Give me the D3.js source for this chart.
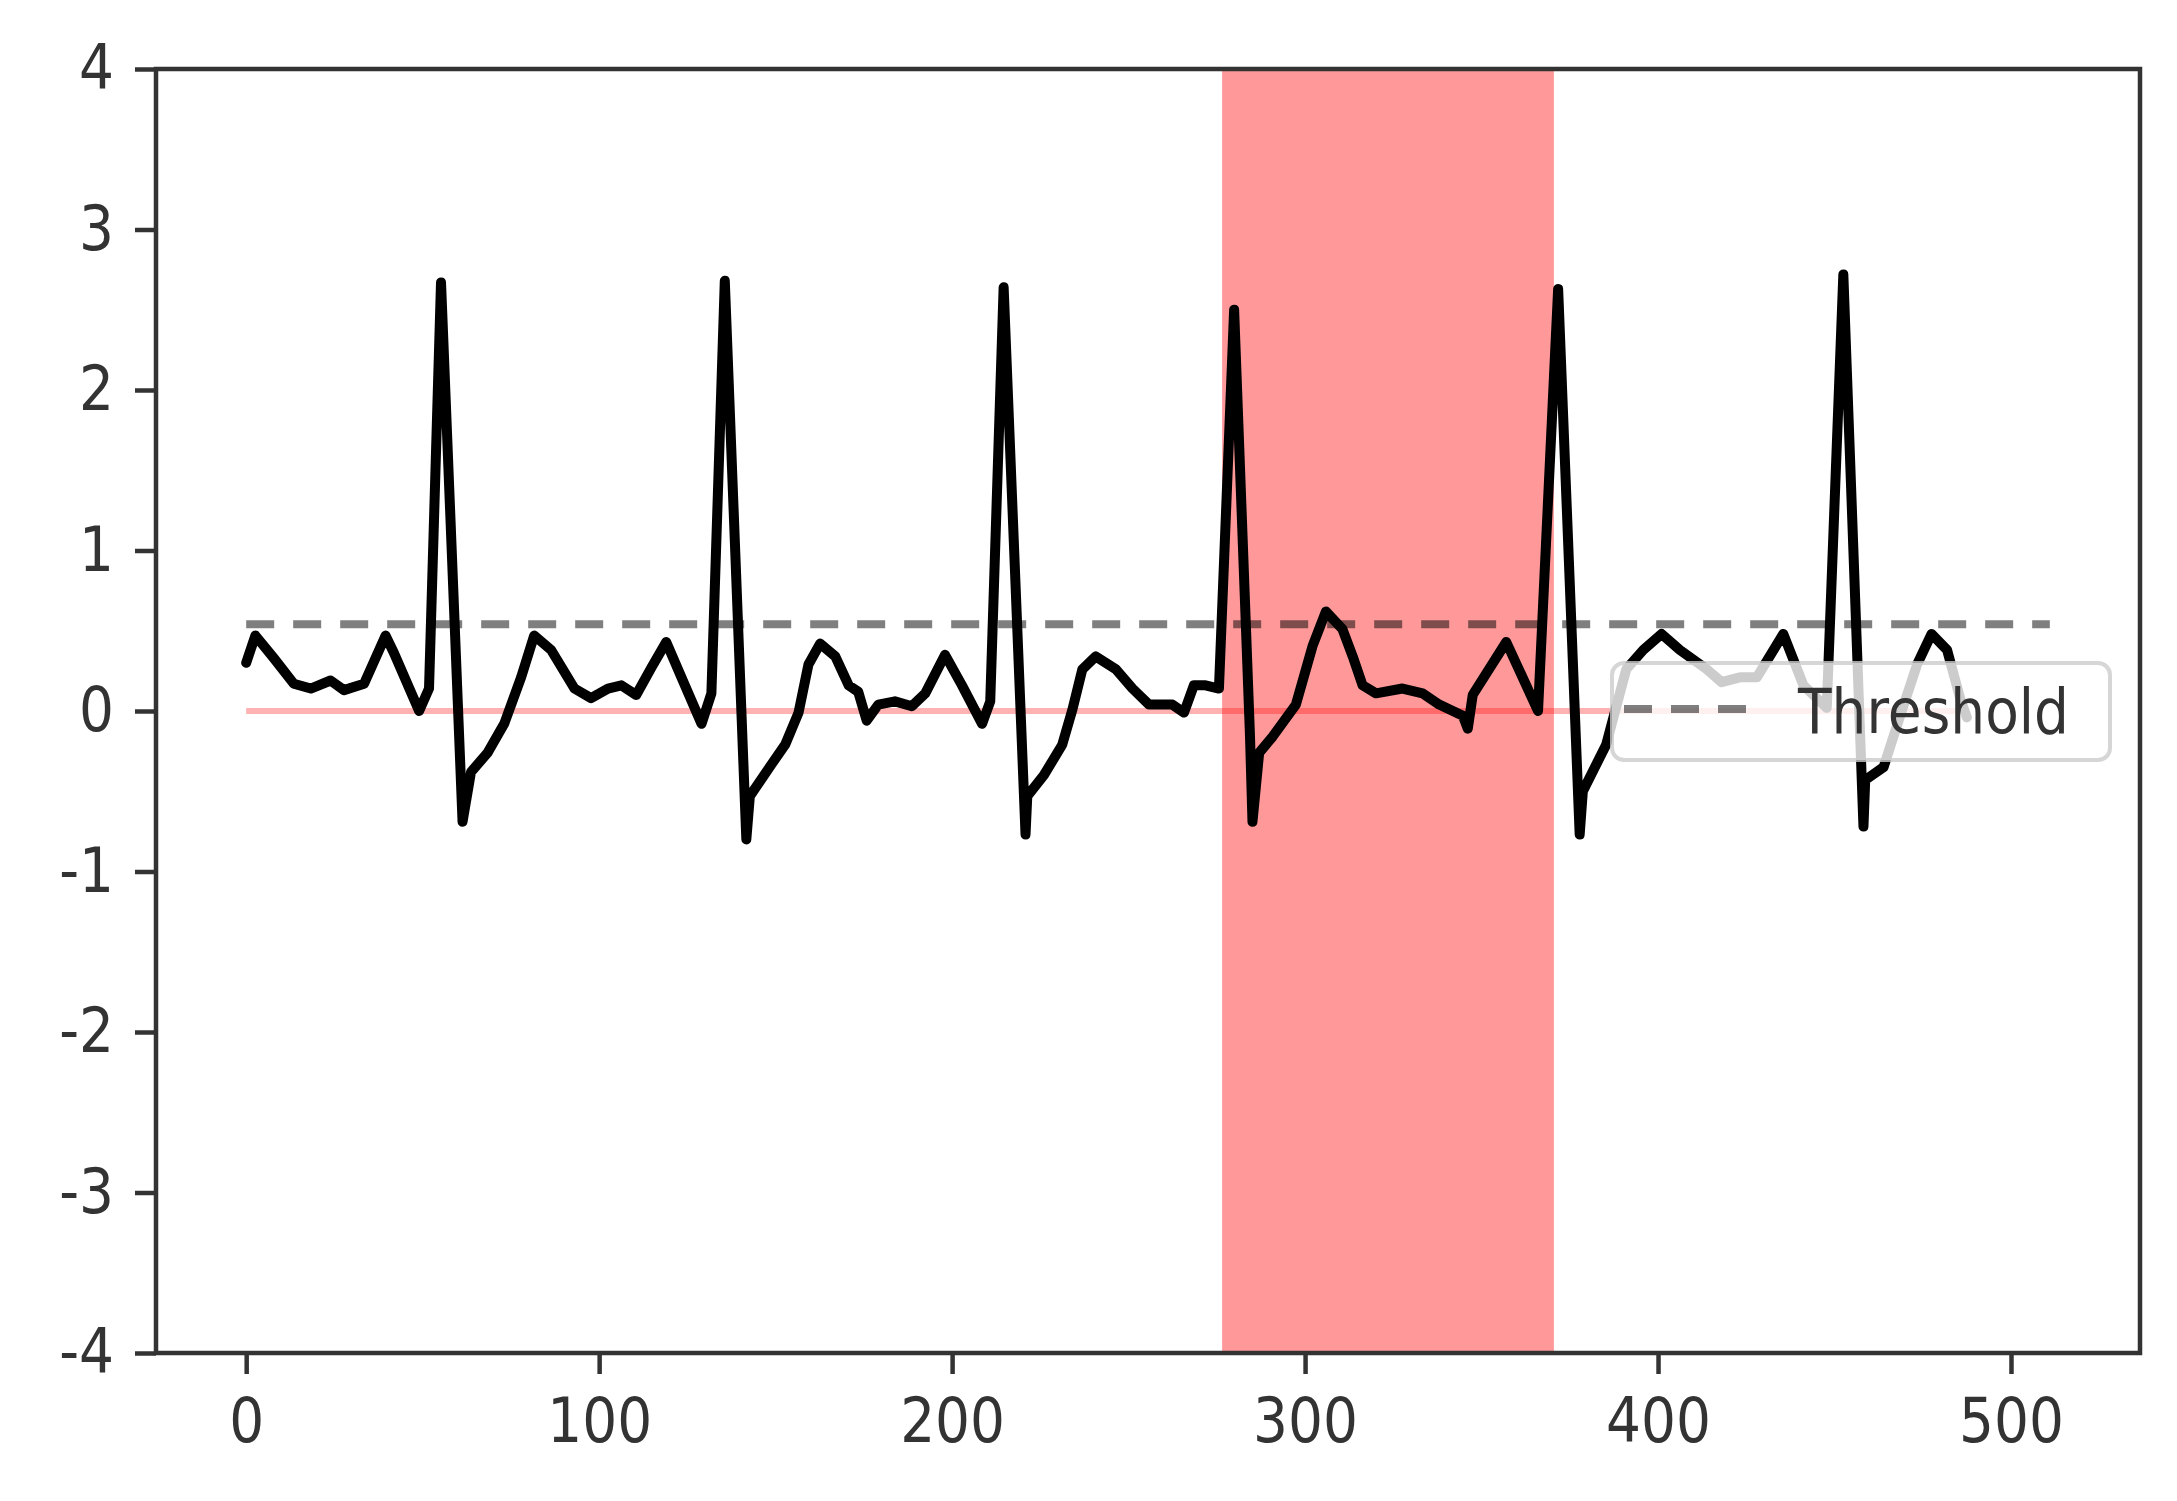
<!DOCTYPE html>
<html>
<head>
<meta charset="utf-8">
<script src="https://cdn.jsdelivr.net/npm/d3@7"></script>
<style>
  body { margin: 0; background: #fff; }
  .tick text, .legend text {
    font-family: "DejaVu Sans", sans-serif;
    font-size: 55px;
    fill: #333;
    transform-box: fill-box;
    transform-origin: center;
    transform: scale(1, 1.12);
  }
</style>
</head>
<body>
<div class="container"></div>
<script>
// ECG trace (sample index, amplitude)
var ecgX = [0, 2.6, 7.8, 13.5, 18.3, 23.9, 27.7, 33.4, 39.5, 41.9, 49.0, 51.8,
  55.2, 61.3, 63.7, 68.4, 73.1, 77.9, 81.6, 86.4, 93.0, 97.7, 102.5, 106.3,
  110.5, 114.8, 119.0, 123.3, 129.0, 131.8, 135.6, 141.7, 142.7, 148.9, 152.7,
  156.5, 159.3, 162.6, 166.9, 170.7, 173.4, 175.8, 179.1, 183.8, 188.6, 192.4,
  198.0, 202.8, 208.5, 210.8, 214.6, 220.8, 221.3, 226.0, 231.2, 234.1, 236.9,
  240.7, 246.4, 251.1, 255.8, 262.4, 265.7, 268.5, 271.8, 275.6, 279.9, 284.4,
  285.1, 287.0, 290.8, 297.4, 302.2, 305.9, 310.6, 313.5, 316.3, 320.1, 327.6,
  333.3, 338.0, 344.7, 346.1, 347.5, 357.0, 366.0, 371.7, 377.8, 378.7, 385.3,
  391.0, 395.8, 401.0, 406.2, 413.8, 418.0, 423.2, 428.0, 435.5, 441.2, 447.8,
  452.5, 458.2, 458.7, 463.9, 468.6, 473.4, 477.5, 481.9, 485.7, 487.5];
var ecgY = [0.30, 0.47, 0.33, 0.17, 0.14, 0.19, 0.13, 0.17, 0.47, 0.36, 0.00, 0.14,
  2.67, -0.69, -0.38, -0.26, -0.08, 0.21, 0.47, 0.38, 0.14, 0.08, 0.14, 0.16,
  0.10, 0.27, 0.43, 0.21, -0.08, 0.11, 2.68, -0.80, -0.53, -0.33, -0.21,
  -0.01, 0.29, 0.42, 0.34, 0.16, 0.12, -0.06, 0.04, 0.06, 0.03, 0.11,
  0.35, 0.16, -0.08, 0.06, 2.64, -0.77, -0.53, -0.40, -0.21, 0.01, 0.26,
  0.34, 0.26, 0.14, 0.04, 0.04, -0.01, 0.16, 0.16, 0.14, 2.50, -0.16,
  -0.69, -0.26, -0.16, 0.04, 0.41, 0.62, 0.51, 0.34, 0.16, 0.11, 0.14,
  0.11, 0.04, -0.03, -0.11, 0.10, 0.43, 0.00, 2.63, -0.77, -0.50, -0.21,
  0.26, 0.38, 0.48, 0.38, 0.26, 0.18, 0.21, 0.21, 0.48, 0.16, 0.02,
  2.72, -0.72, -0.43, -0.35, -0.03, 0.29, 0.48, 0.38, 0.07, -0.04];

var zeroX = [0, 487.5];
var zeroY = [0, 0];
var thresholdX = [0, 511];
var thresholdValue = 0.54;
var anomalySpan = [276.5, 370.5];
var xTicks = [0, 100, 200, 300, 400, 500];
var yTicks = [-4, -3, -2, -1, 0, 1, 2, 3, 4];
var legendLabel = "Threshold";

var W = 2177, H = 1501;
var m = {left: 156, right: 37, top: 69, bottom: 148};
var iw = W - m.left - m.right, ih = H - m.top - m.bottom;

var svg = d3.select(".container").append("svg").attr("width", W).attr("height", H);
var g = svg.append("g").attr("transform", "translate(" + m.left + "," + m.top + ")");

var pad = (thresholdX[1] - thresholdX[0]) * 0.05;
var x = d3.scaleLinear().domain([thresholdX[0] - pad, thresholdX[1] + pad]).range([0, iw]);
var y = d3.scaleLinear().domain([-4, 4]).range([ih, 0]);

// anomaly window
g.append("rect")
  .attr("x", x(anomalySpan[0])).attr("y", 0)
  .attr("width", x(anomalySpan[1]) - x(anomalySpan[0])).attr("height", ih)
  .attr("fill", "#ff0000").attr("fill-opacity", 0.4);

var line = d3.line().x(function(d){ return x(d[0]); }).y(function(d){ return y(d[1]); });

g.append("path")
  .datum(d3.zip(zeroX, zeroY))
  .attr("d", line).attr("fill", "none")
  .attr("stroke", "#ff0000").attr("stroke-opacity", 0.3).attr("stroke-width", 6);

g.append("path")
  .datum(d3.zip(ecgX, ecgY))
  .attr("d", line).attr("fill", "none")
  .attr("stroke", "#000").attr("stroke-width", 10)
  .attr("stroke-linejoin", "round").attr("stroke-linecap", "round");

g.append("path")
  .datum(thresholdX.map(function(v){ return [v, thresholdValue]; }))
  .attr("d", line).attr("fill", "none")
  .attr("stroke", "#000").attr("stroke-opacity", 0.5).attr("stroke-width", 8)
  .attr("stroke-dasharray", "28,19");

// axes
var xAxis = g.append("g").attr("transform", "translate(0," + ih + ")")
  .call(d3.axisBottom(x).tickValues(xTicks).tickSize(21).tickPadding(27).tickFormat(String));
var yAxis = g.append("g")
  .call(d3.axisLeft(y).tickValues(yTicks).tickSize(21).tickPadding(21).tickFormat(String));
[xAxis, yAxis].forEach(function(a){
  a.select(".domain").remove();
  a.selectAll(".tick line").attr("stroke", "#333").attr("stroke-width", 4.5);
});

g.append("rect").attr("width", iw).attr("height", ih)
  .attr("fill", "none").attr("stroke", "#333").attr("stroke-width", 4.5);

// legend
var leg = g.append("g").attr("class", "legend")
  .attr("transform", "translate(" + (iw - 528) + "," + (594) + ")");
leg.append("rect").attr("width", 498).attr("height", 97).attr("rx", 12)
  .attr("fill", "#fff").attr("fill-opacity", 0.8)
  .attr("stroke", "#ccc").attr("stroke-opacity", 0.8).attr("stroke-width", 4);
leg.append("line").attr("x1", 12).attr("x2", 140).attr("y1", 46).attr("y2", 46)
  .attr("stroke", "#000").attr("stroke-opacity", 0.5).attr("stroke-width", 8)
  .attr("stroke-dasharray", "28,19");
leg.append("text").attr("x", 186).attr("y", 48).attr("dy", "0.35em").text(legendLabel);
</script>
</body>
</html>
